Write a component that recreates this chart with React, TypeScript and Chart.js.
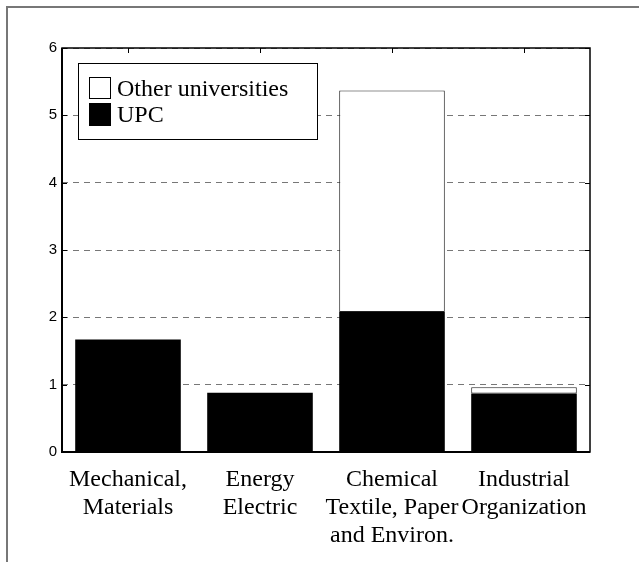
import React, { useEffect, useRef } from "react";
import { Chart, registerables } from "chart.js";

Chart.register(...registerables);

const categories: string[][] = [
  ["Mechanical,", "Materials"],
  ["Energy", "Electric"],
  ["Chemical", "Textile, Paper", "and Environ."],
  ["Industrial", "Organization"],
];
const upcValues = [1.67, 0.88, 2.08, 0.87];
const otherValues = [0, 0, 3.29, 0.09];
const yTicks = [0, 1, 2, 3, 4, 5, 6];
const seriesNames = ["Other universities", "UPC"];

const SERIF = "'Liberation Serif', 'Times New Roman', serif";
const SANS = "'Liberation Sans', Arial, sans-serif";

const framePlugin = {
  id: "matlabFrame",
  afterDatasetsDraw(chart: any) {
    const { ctx, chartArea: a, scales } = chart;
    ctx.save();
    ctx.strokeStyle = "#000";
    ctx.lineWidth = 1.5;
    ctx.strokeRect(a.left, a.top, a.right - a.left, a.bottom - a.top);
    ctx.lineWidth = 2;
    ctx.beginPath();
    ctx.moveTo(a.left, a.top);
    ctx.lineTo(a.left, a.bottom);
    ctx.lineTo(a.right, a.bottom);
    ctx.stroke();
    ctx.lineWidth = 1;
    const tl = 5;
    yTicks.forEach((v) => {
      const y = Math.round(scales.y.getPixelForValue(v)) + 0.5;
      ctx.beginPath();
      ctx.moveTo(a.left, y);
      ctx.lineTo(a.left + tl, y);
      ctx.moveTo(a.right, y);
      ctx.lineTo(a.right - tl, y);
      ctx.stroke();
    });
    categories.forEach((_, i) => {
      const x = Math.round(scales.x.getPixelForValue(i)) + 0.5;
      ctx.beginPath();
      ctx.moveTo(x, a.top);
      ctx.lineTo(x, a.top + tl);
      ctx.stroke();
    });
    ctx.restore();
  },
  afterDraw(chart: any) {
    const { ctx } = chart;
    ctx.save();
    const bx = 78, by = 63, bw = 239, bh = 76;
    ctx.fillStyle = "#fff";
    ctx.fillRect(bx, by, bw, bh);
    ctx.strokeStyle = "#000";
    ctx.lineWidth = 1;
    ctx.strokeRect(bx + 0.5, by + 0.5, bw, bh);
    ctx.fillStyle = "#fff";
    ctx.fillRect(89, 77, 22, 22);
    ctx.strokeRect(89.5, 77.5, 21, 21);
    ctx.fillStyle = "#000";
    ctx.fillRect(89, 103, 22, 23);
    ctx.font = `24px ${SERIF}`;
    ctx.textBaseline = "alphabetic";
    ctx.textAlign = "left";
    ctx.fillStyle = "#000";
    ctx.fillText(seriesNames[0], 117, 96);
    ctx.fillText(seriesNames[1], 117, 122);
    ctx.restore();
  },
};

export default function App() {
  const ref = useRef<HTMLCanvasElement | null>(null);
  useEffect(() => {
    if (!ref.current) return;
    const chart = new Chart(ref.current, {
      type: "bar",
      data: {
        labels: categories,
        datasets: [
          {
            label: seriesNames[1],
            data: upcValues,
            backgroundColor: "#000",
            borderColor: "#000",
            borderWidth: 0,
            stack: "s",
          },
          {
            label: seriesNames[0],
            data: otherValues,
            backgroundColor: "#fff",
            borderColor: "#222",
            borderWidth: 1,
            borderSkipped: false,
            stack: "s",
          },
        ],
      },
      options: {
        animation: false,
        responsive: false,
        maintainAspectRatio: false,
        devicePixelRatio: 1,
        layout: { padding: { left: 0, right: 49, top: 48, bottom: 0 } },
        plugins: { legend: { display: false }, tooltip: { enabled: false } },
        datasets: { bar: { categoryPercentage: 1, barPercentage: 0.8 } },
        scales: {
          x: {
            stacked: true,
            grid: { display: false, drawTicks: false },
            border: { display: false },
            ticks: {
              color: "#000",
              font: { family: SERIF, size: 24, lineHeight: 1.17 },
              padding: 14,
              maxRotation: 0,
              autoSkip: false,
            },
            afterFit: (s: any) => {
              s.height = 110;
            },
          },
          y: {
            stacked: true,
            min: 0,
            max: 6,
            grid: {
              color: "#777",
              lineWidth: 1,
              drawTicks: false,
              tickLength: 0,
            },
            border: { display: false, dash: [6, 5] },
            ticks: {
              stepSize: 1,
              color: "#000",
              font: { family: SANS, size: 15 },
              padding: 5,
            },
            afterFit: (s: any) => {
              s.width = 62;
            },
          },
        },
      },
      plugins: [framePlugin],
    } as any);
    return () => chart.destroy();
  }, []);
  return (
    <div style={{ position: "fixed", left: 0, top: 0, width: 639, height: 562, background: "#fff" }}>
      <div
        style={{
          position: "absolute",
          left: 6,
          top: 6,
          right: -4,
          bottom: -4,
          borderLeft: "2px solid #777",
          borderTop: "2px solid #777",
        }}
      />
      <canvas ref={ref} width={639} height={562} style={{ position: "absolute", left: 0, top: 0, width: 639, height: 562 }} />
    </div>
  );
}
